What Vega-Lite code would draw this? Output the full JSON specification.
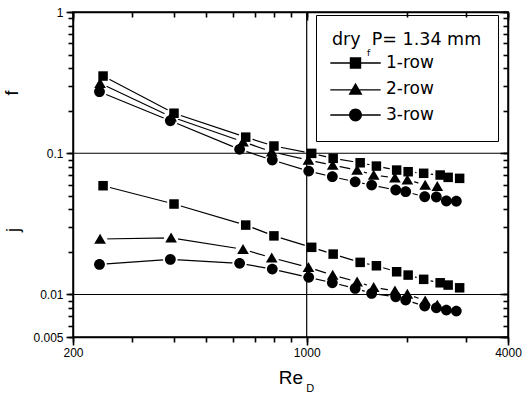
{
  "$schema": "https://vega.github.io/schema/vega-lite/v6.json",
  "width": 435,
  "height": 325,
  "autosize": {"type": "none"},
  "padding": {"left": 73, "top": 12, "right": 14, "bottom": 57},
  "background": "white",
  "config": {"view": {"stroke": "black", "strokeWidth": 1.5}, "font": "Liberation Sans"},
  "data": {"values": [
    {"s": "1-row", "q": "f", "re": 246, "v": 0.352},
    {"s": "1-row", "q": "f", "re": 401, "v": 0.192},
    {"s": "1-row", "q": "f", "re": 657, "v": 0.130},
    {"s": "1-row", "q": "f", "re": 798, "v": 0.1125},
    {"s": "1-row", "q": "f", "re": 1035, "v": 0.0998},
    {"s": "1-row", "q": "f", "re": 1200, "v": 0.092},
    {"s": "1-row", "q": "f", "re": 1445, "v": 0.0856},
    {"s": "1-row", "q": "f", "re": 1616, "v": 0.0811},
    {"s": "1-row", "q": "f", "re": 1858, "v": 0.076},
    {"s": "1-row", "q": "f", "re": 2011, "v": 0.074},
    {"s": "1-row", "q": "f", "re": 2238, "v": 0.0721},
    {"s": "1-row", "q": "f", "re": 2507, "v": 0.0701},
    {"s": "1-row", "q": "f", "re": 2649, "v": 0.0675},
    {"s": "1-row", "q": "f", "re": 2867, "v": 0.0664},
    {"s": "1-row", "q": "j", "re": 246, "v": 0.0589},
    {"s": "1-row", "q": "j", "re": 401, "v": 0.0437},
    {"s": "1-row", "q": "j", "re": 657, "v": 0.0310},
    {"s": "1-row", "q": "j", "re": 798, "v": 0.0260},
    {"s": "1-row", "q": "j", "re": 1035, "v": 0.02157},
    {"s": "1-row", "q": "j", "re": 1200, "v": 0.01932},
    {"s": "1-row", "q": "j", "re": 1445, "v": 0.01688},
    {"s": "1-row", "q": "j", "re": 1616, "v": 0.01597},
    {"s": "1-row", "q": "j", "re": 1858, "v": 0.01448},
    {"s": "1-row", "q": "j", "re": 2011, "v": 0.01372},
    {"s": "1-row", "q": "j", "re": 2238, "v": 0.0128},
    {"s": "1-row", "q": "j", "re": 2507, "v": 0.0121},
    {"s": "1-row", "q": "j", "re": 2649, "v": 0.01166},
    {"s": "1-row", "q": "j", "re": 2867, "v": 0.01115},
    {"s": "2-row", "q": "f", "re": 241, "v": 0.3126},
    {"s": "2-row", "q": "f", "re": 393, "v": 0.1814},
    {"s": "2-row", "q": "f", "re": 645, "v": 0.1206},
    {"s": "2-row", "q": "f", "re": 786, "v": 0.1025},
    {"s": "2-row", "q": "f", "re": 1012, "v": 0.0895},
    {"s": "2-row", "q": "f", "re": 1196, "v": 0.0825},
    {"s": "2-row", "q": "f", "re": 1415, "v": 0.076},
    {"s": "2-row", "q": "f", "re": 1586, "v": 0.0701},
    {"s": "2-row", "q": "f", "re": 1836, "v": 0.067},
    {"s": "2-row", "q": "f", "re": 2000, "v": 0.065},
    {"s": "2-row", "q": "f", "re": 2261, "v": 0.0595},
    {"s": "2-row", "q": "f", "re": 2458, "v": 0.0585},
    {"s": "2-row", "q": "j", "re": 241, "v": 0.0247},
    {"s": "2-row", "q": "j", "re": 393, "v": 0.0252},
    {"s": "2-row", "q": "j", "re": 645, "v": 0.0209},
    {"s": "2-row", "q": "j", "re": 786, "v": 0.0182},
    {"s": "2-row", "q": "j", "re": 1012, "v": 0.01556},
    {"s": "2-row", "q": "j", "re": 1196, "v": 0.01372},
    {"s": "2-row", "q": "j", "re": 1415, "v": 0.0123},
    {"s": "2-row", "q": "j", "re": 1586, "v": 0.01123},
    {"s": "2-row", "q": "j", "re": 1836, "v": 0.01062},
    {"s": "2-row", "q": "j", "re": 2000, "v": 0.01006},
    {"s": "2-row", "q": "j", "re": 2261, "v": 0.00902},
    {"s": "2-row", "q": "j", "re": 2458, "v": 0.00841},
    {"s": "3-row", "q": "f", "re": 240, "v": 0.2727},
    {"s": "3-row", "q": "f", "re": 391, "v": 0.1699},
    {"s": "3-row", "q": "f", "re": 630, "v": 0.1066},
    {"s": "3-row", "q": "f", "re": 789, "v": 0.0895},
    {"s": "3-row", "q": "f", "re": 1014, "v": 0.0748},
    {"s": "3-row", "q": "f", "re": 1193, "v": 0.0682},
    {"s": "3-row", "q": "f", "re": 1396, "v": 0.0628},
    {"s": "3-row", "q": "f", "re": 1564, "v": 0.0595},
    {"s": "3-row", "q": "f", "re": 1846, "v": 0.0549},
    {"s": "3-row", "q": "f", "re": 1977, "v": 0.0534},
    {"s": "3-row", "q": "f", "re": 2254, "v": 0.0492},
    {"s": "3-row", "q": "f", "re": 2442, "v": 0.049},
    {"s": "3-row", "q": "f", "re": 2616, "v": 0.0459},
    {"s": "3-row", "q": "f", "re": 2802, "v": 0.0457},
    {"s": "3-row", "q": "j", "re": 240, "v": 0.01633},
    {"s": "3-row", "q": "j", "re": 391, "v": 0.01772},
    {"s": "3-row", "q": "j", "re": 630, "v": 0.01661},
    {"s": "3-row", "q": "j", "re": 789, "v": 0.01513},
    {"s": "3-row", "q": "j", "re": 1014, "v": 0.01322},
    {"s": "3-row", "q": "j", "re": 1193, "v": 0.0121},
    {"s": "3-row", "q": "j", "re": 1396, "v": 0.01104},
    {"s": "3-row", "q": "j", "re": 1564, "v": 0.01018},
    {"s": "3-row", "q": "j", "re": 1846, "v": 0.00963},
    {"s": "3-row", "q": "j", "re": 1977, "v": 0.00913},
    {"s": "3-row", "q": "j", "re": 2254, "v": 0.00828},
    {"s": "3-row", "q": "j", "re": 2442, "v": 0.00805},
    {"s": "3-row", "q": "j", "re": 2616, "v": 0.00775},
    {"s": "3-row", "q": "j", "re": 2802, "v": 0.00763}
  ]},
  "resolve": {"axis": {"x": "independent", "y": "independent"}, "scale": {"shape": "independent"}, "legend": {"shape": "independent"}},
  "layer": [
    {
      "mark": {"type": "line", "color": "black", "strokeWidth": 1.2},
      "encoding": {
        "x": {
          "field": "re", "type": "quantitative",
          "scale": {"type": "log", "domain": [200, 4000], "nice": false},
          "axis": {
            "orient": "bottom",
            "values": [200, 1000, 4000],
            "labelExpr": "datum.value == 200 ? '200' : datum.value == 1000 ? '1000' : datum.value == 4000 ? '4000' : ''",
            "ticks": true, "tickOpacity": 1, "tickSize": 8, "tickColor": "black", "tickWidth": 1.6,
            "domainColor": "black", "domainWidth": 1.5,
            "labelFont": "Liberation Sans", "labelFontSize": 12, "labelColor": "black",
            "labelPadding": 2, "labelFlush": false, "labelOverlap": false,
            "grid": false,
            "title": "Re", "titleFont": "Liberation Sans", "titleFontSize": 19, "titleFontWeight": "normal",
            "titleColor": "black", "titleBaseline": "alphabetic", "titleY": 46
          }
        },
        "y": {
          "field": "v", "type": "quantitative",
          "scale": {"type": "log", "domain": [0.005, 1], "nice": false},
          "axis": {
            "orient": "left",
            "values": [0.005, 0.01, 0.1, 1],
            "labelExpr": "datum.value == 1 ? '1' : datum.value == 0.1 ? '0.1' : datum.value == 0.01 ? '0.01' : datum.value == 0.005 ? '0.005' : ''",
            "ticks": true, "tickOpacity": 1, "tickSize": 7, "tickColor": "black", "tickWidth": 1.6,
            "domainColor": "black", "domainWidth": 1.5,
            "labelFont": "Liberation Sans", "labelFontSize": 12, "labelColor": "black",
            "labelPadding": 3, "labelFlush": false, "labelOverlap": false,
            "grid": false, "title": null
          }
        },
        "detail": [{"field": "s"}, {"field": "q"}]
      }
    },
    {
      "mark": {"type": "point", "filled": true, "color": "white", "shape": "circle", "size": 210, "opacity": 1},
      "encoding": {
        "x": {
          "field": "re", "type": "quantitative",
          "axis": {
            "orient": "bottom",
            "values": [200, 300, 400, 500, 600, 700, 800, 900, 1000, 2000, 3000, 4000],
            "labels": false, "domain": false, "grid": false, "title": null,
            "ticks": true, "tickOpacity": 1, "tickSize": 5, "tickColor": "black", "tickWidth": 1.6
          }
        },
        "y": {
          "field": "v", "type": "quantitative",
          "axis": {
            "orient": "left",
            "values": [0.005, 0.006, 0.007, 0.008, 0.009, 0.01, 0.02, 0.03, 0.04, 0.05, 0.06, 0.07, 0.08, 0.09, 0.1, 0.2, 0.3, 0.4, 0.5, 0.6, 0.7, 0.8, 0.9, 1],
            "labels": false, "domain": false, "grid": false, "title": null,
            "ticks": true, "tickOpacity": 1, "tickSize": 5, "tickColor": "black", "tickWidth": 1.6
          }
        }
      }
    },
    {
      "data": {"values": [{}]},
      "mark": {"type": "rule", "color": "black", "strokeWidth": 1.2},
      "encoding": {"y": {"datum": 0.1, "axis": null}}
    },
    {
      "data": {"values": [{}]},
      "mark": {"type": "rule", "color": "black", "strokeWidth": 1.2},
      "encoding": {"y": {"datum": 0.01, "axis": null}}
    },
    {
      "data": {"values": [{}]},
      "mark": {"type": "rule", "color": "black", "strokeWidth": 1.2},
      "encoding": {"x": {"datum": 1000, "axis": null}}
    },
    {
      "mark": {"type": "point", "filled": true, "color": "black", "size": 100, "opacity": 1},
      "encoding": {
        "x": {
          "field": "re", "type": "quantitative",
          "axis": {
            "orient": "top",
            "values": [200, 300, 400, 500, 600, 700, 800, 900, 1000, 2000, 3000, 4000],
            "labels": false, "ticks": true, "tickOpacity": 1, "tickSize": -5,
            "tickColor": "black", "tickWidth": 1.6,
            "domainColor": "black", "domainWidth": 1.5,
            "grid": false, "title": null
          }
        },
        "y": {
          "field": "v", "type": "quantitative",
          "axis": {
            "orient": "right",
            "values": [0.005, 0.006, 0.007, 0.008, 0.009, 0.01, 0.02, 0.03, 0.04, 0.05, 0.06, 0.07, 0.08, 0.09, 0.1, 0.2, 0.3, 0.4, 0.5, 0.6, 0.7, 0.8, 0.9, 1],
            "labels": false, "ticks": true, "tickOpacity": 1, "tickSize": -5,
            "tickColor": "black", "tickWidth": 1.6,
            "domainColor": "black", "domainWidth": 1.5,
            "grid": false, "title": null
          }
        },
        "shape": {
          "field": "s", "type": "nominal",
          "scale": {
            "domain": ["1-row", "2-row", "3-row"],
            "range": [
              "M-0.95,-0.95H0.95V0.95H-0.95Z",
              "M0,-1.05L1.17,0.95H-1.17Z",
              "M1.08,0A1.08,1.08,0,1,1,-1.08,0A1.08,1.08,0,1,1,1.08,0Z"
            ]
          },
          "legend": null
        }
      }
    },
    {
      "transform": [{"filter": "false"}],
      "mark": {"type": "point", "filled": true, "color": "black", "size": 144, "opacity": 1},
      "encoding": {
        "x": {"field": "re", "type": "quantitative", "axis": null},
        "y": {"field": "v", "type": "quantitative", "axis": null},
        "shape": {
          "field": "s", "type": "nominal",
          "scale": {
            "domain": ["1-row", "2-row", "3-row"],
            "range": [
              "M-0.95,-0.95H0.95V0.95H-0.95Z M-4.2,-0.11H4.2V0.11H-4.2Z",
              "M0,-1.05L1.17,0.95H-1.17Z M-4.2,0.04H4.2V0.26H-4.2Z",
              "M1.08,0A1.08,1.08,0,1,1,-1.08,0A1.08,1.08,0,1,1,1.08,0Z M-4.2,-0.11H4.2V0.11H-4.2Z"
            ]
          },
          "legend": {
            "orient": "none", "legendX": 243, "legendY": 3,
            "title": "dry\u00a0 P= 1.34 mm",
            "titleFont": "DejaVu Sans", "titleFontSize": 17.5, "titleFontWeight": "normal", "titleColor": "black",
            "titlePadding": 6,
            "labelFont": "DejaVu Sans", "labelFontSize": 17, "labelColor": "black",
            "labelOffset": 22, "symbolOffset": 15,
            "symbolSize": 144, "rowPadding": 7,
            "symbolFillColor": "black", "symbolOpacity": 1,
            "padding": 16, "strokeColor": "black"
          }
        }
      }
    },
    {
      "data": {"values": [{}]},
      "mark": {"type": "text", "text": "f", "angle": 270, "font": "Liberation Sans", "fontSize": 18, "color": "black", "align": "center", "baseline": "middle"},
      "encoding": {
        "x": {"datum": 132, "axis": {"orient": "top", "values": [200, 1000, 4000], "labels": false, "domain": false, "grid": false, "title": null, "ticks": true, "tickOpacity": 1, "tickSize": -8, "tickColor": "black", "tickWidth": 1.6}},
        "y": {"datum": 0.267, "axis": {"orient": "right", "values": [0.005, 0.01, 0.1, 1], "labels": false, "domain": false, "grid": false, "title": null, "ticks": true, "tickOpacity": 1, "tickSize": -8, "tickColor": "black", "tickWidth": 1.6}}
      }
    },
    {
      "data": {"values": [{}]},
      "mark": {"type": "text", "text": "j", "angle": 270, "font": "Liberation Sans", "fontSize": 18, "color": "black", "align": "center", "baseline": "middle"},
      "encoding": {"x": {"datum": 133, "axis": null}, "y": {"datum": 0.0286, "axis": null}}
    },
    {
      "data": {"values": [{}]},
      "mark": {"type": "text", "text": "D", "font": "Liberation Sans", "fontSize": 11, "color": "black", "align": "center", "baseline": "middle"},
      "encoding": {"x": {"datum": 1024, "axis": null}, "y": {"datum": 0.00214, "axis": null}}
    },
    {
      "data": {"values": [{}]},
      "mark": {"type": "text", "text": "f", "font": "DejaVu Sans", "fontSize": 9, "color": "black", "align": "center", "baseline": "middle"},
      "encoding": {"x": {"datum": 1532, "axis": null}, "y": {"datum": 0.5125, "axis": null}}
    }
  ]
}
